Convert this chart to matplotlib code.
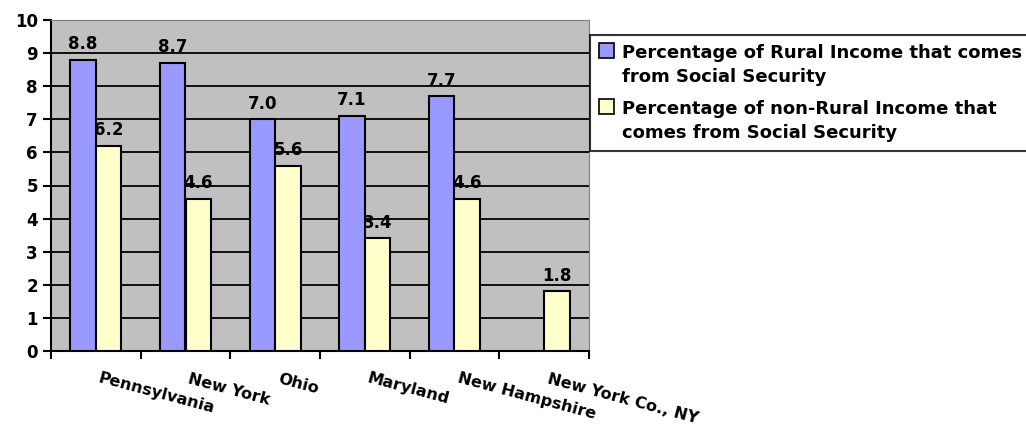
import numpy as np
import matplotlib
matplotlib.use('Agg')
import matplotlib.pyplot as plt
from matplotlib.transforms import offset_copy

states = ['Pennsylvania', 'New York', 'Ohio', 'Maryland', 'New Hampshire', 'New York Co., NY']
rural = [8.8, 8.7, 7.0, 7.1, 7.7, np.nan]
non_rural = [6.2, 4.6, 5.6, 3.4, 4.6, 1.8]
labels = ['Percentage of Rural Income that comes\nfrom Social Security',
          'Percentage of non-Rural Income that\ncomes from Social Security']

plt.rcParams['font.family'] = 'DejaVu Sans'
plt.rcParams['font.weight'] = 'bold'

fig = plt.figure(figsize=(10.26, 4.25), dpi=100)
ax = fig.add_axes([51/1026, 1-351/425, 538/1026, 331/425])
ax.set_facecolor('#C0C0C0')

x = np.arange(len(states))
w = 0.285
b1 = ax.bar(x - w/2, rural, w, color='#9999FF', edgecolor='black', linewidth=1.5, zorder=3)
b2 = ax.bar(x + w/2, non_rural, w, color='#FFFFCC', edgecolor='black', linewidth=1.5, zorder=3)

for xi, v in zip(x - w/2, rural):
    if not np.isnan(v):
        ax.text(xi, v + 0.2, f'{v:.1f}', ha='center', va='bottom', fontsize=12, fontweight='bold')
for xi, v in zip(x + w/2, non_rural):
    ax.text(xi, v + 0.2, f'{v:.1f}', ha='center', va='bottom', fontsize=12, fontweight='bold')

ax.set_ylim(0, 10)
ax.set_xlim(-0.5, len(states) - 0.5)
ax.set_yticks(range(0, 11))
ax.set_yticklabels([str(i) for i in range(0, 11)], fontsize=12, fontweight='bold')
ax.yaxis.grid(True, color='black', linewidth=1.3, zorder=0)
ax.set_axisbelow(True)

ax.set_xticks(np.arange(len(states) + 1) - 0.5)
ax.set_xticklabels([])
ax.tick_params(axis='both', direction='out', length=6, width=1.5, color='black')
# rotated category labels, hanging from the group centre
trans = offset_copy(ax.get_xaxis_transform(), fig=fig, x=5, y=-20, units='dots')
for xi, s in zip(x, states):
    ax.text(xi, 0, s, rotation=-15, rotation_mode='anchor', ha='left', va='top',
            fontsize=11.5, fontweight='bold', transform=trans)

ax.spines['left'].set_linewidth(1.5)
ax.spines['bottom'].set_linewidth(1.5)
ax.spines['top'].set_color('#808080')
ax.spines['right'].set_color('#808080')

leg = fig.legend([b1, b2], labels, loc='upper left', bbox_to_anchor=(590/1026, 1-35/425),
                 prop={'size': 13, 'weight': 'bold'}, frameon=True, fancybox=False,
                 edgecolor='black', handlelength=0.85, handleheight=0.85, handletextpad=0.4,
                 labelspacing=0.75, borderpad=0.5, borderaxespad=0)
leg.get_frame().set_linewidth(1.5)
for t in leg.get_texts():
    t.set_linespacing(1.45)
# put the swatch next to the first line of each entry, as Excel does
for h in leg.legend_handles:
    h.set_linewidth(1.2)
    h.set_y(h.get_y() + 11)

fig.savefig('out.png', dpi=100)
